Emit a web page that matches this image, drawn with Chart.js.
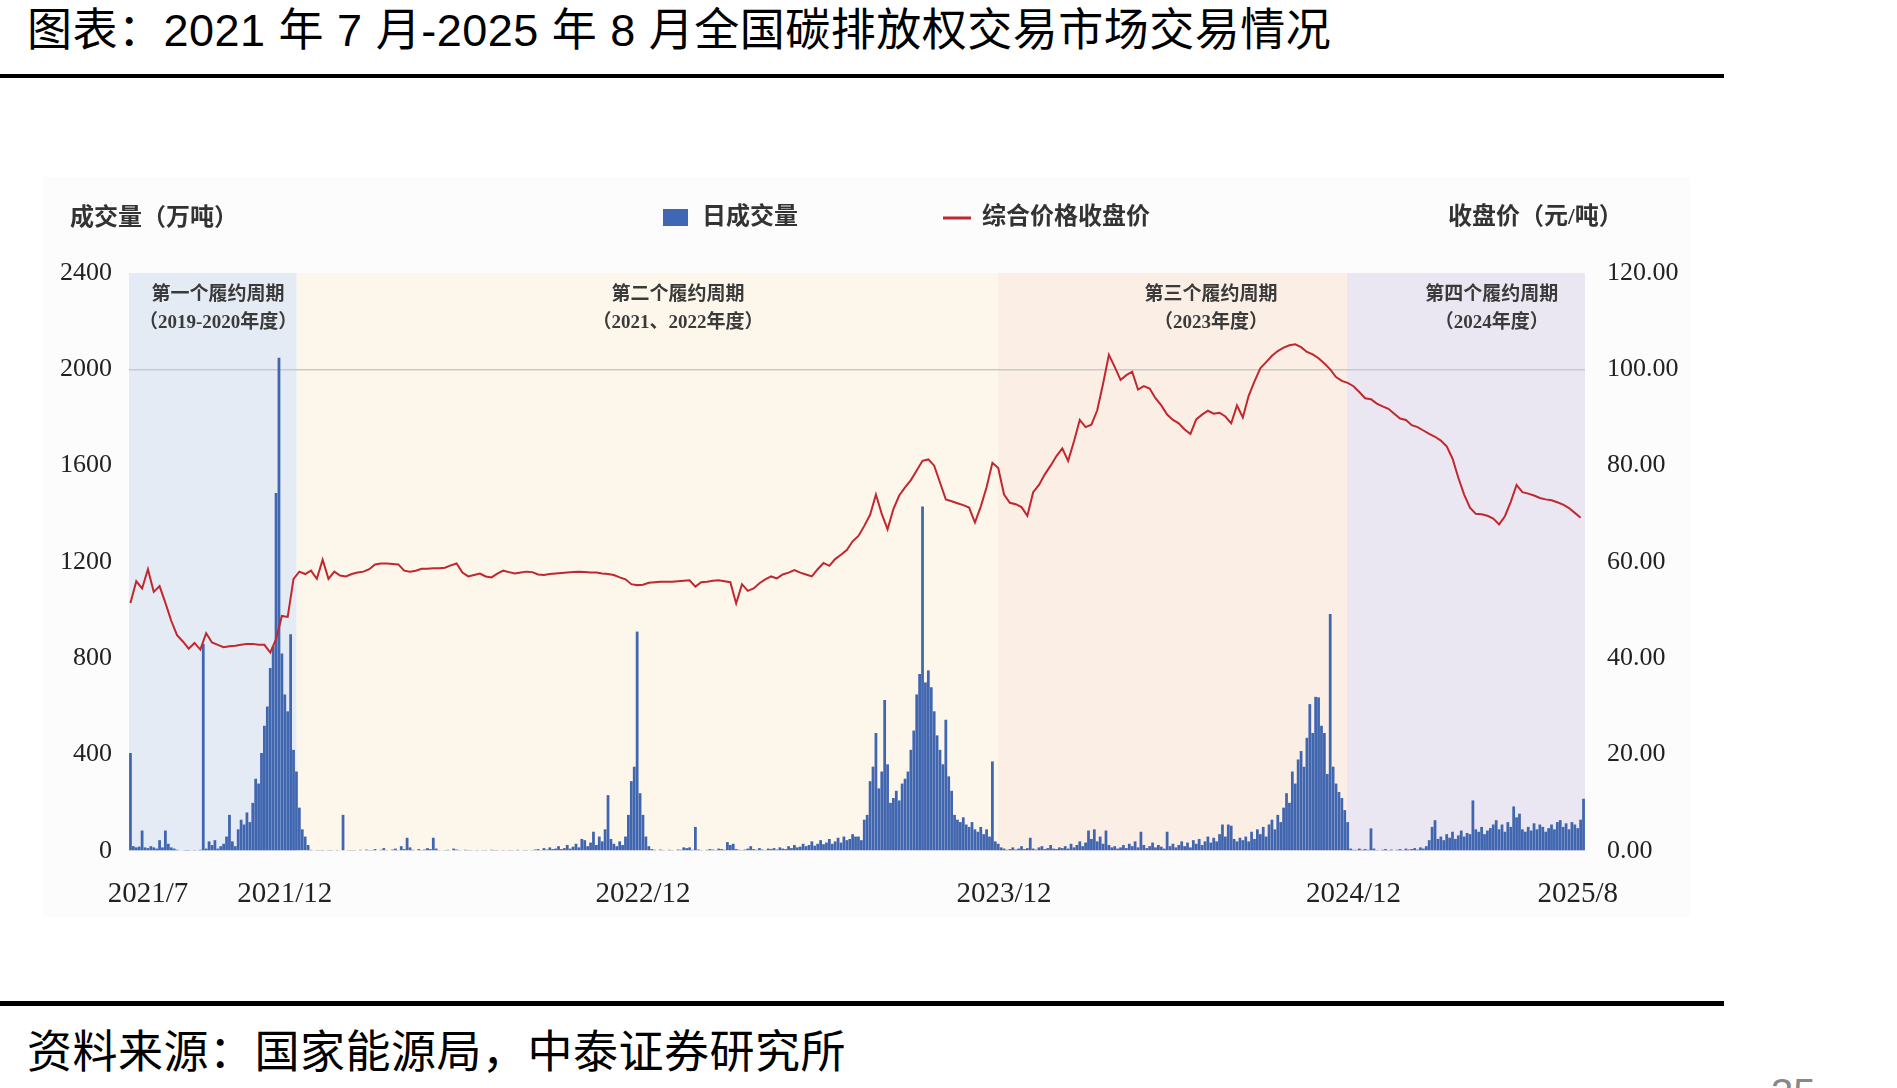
<!DOCTYPE html>
<html lang="zh-CN">
<head>
  <meta charset="UTF-8" />
  <title>全国碳排放权交易市场交易情况</title>
  <script src="https://cdn.jsdelivr.net/npm/chart.js"></script>
  <style>
    body {
      margin: 0;
      width: 1897px;
      height: 1088px;
      overflow: hidden;
      background: #fff;
      position: relative;
      font-family: "Liberation Sans", "Noto Sans CJK SC", sans-serif;
    }
    .title {
      position: absolute;
      left: 27px;
      top: 8px;
      font-size: 45px;
      line-height: 45px;
      letter-spacing: 0.5px;
      color: #000;
      white-space: nowrap;
    }
    .rule {
      position: absolute;
      left: 0;
      width: 1724px;
      background: #000;
    }
    .source {
      position: absolute;
      left: 27px;
      top: 1030px;
      font-size: 45px;
      line-height: 45px;
      letter-spacing: 0.5px;
      color: #000;
      white-space: nowrap;
    }
    .page {
      position: absolute;
      left: 1771px;
      top: 1073px;
      font-size: 40px;
      line-height: 40px;
      color: #888;
    }
    .chart-box {
      position: absolute;
      left: 43px;
      top: 177px;
      width: 1647px;
      height: 740px;
      background: #fcfcfc;
    }
  </style>
</head>
<body>
  <div class="title">图表：2021 年 7 月-2025 年 8 月全国碳排放权交易市场交易情况</div>
  <div class="rule" style="top:74px;height:4px"></div>

  <div class="chart-box"><canvas id="carbonChart"></canvas></div>

  <div class="rule" style="top:1001px;height:5px"></div>
  <div class="source">资料来源：国家能源局，中泰证券研究所</div>
  <div class="page">35</div>

  <script>
    // 日成交量（万吨），每根柱 = 两个交易日，2021/7/16 起
    const volume = [
      407, 20, 15, 18, 85, 15, 12, 20, 15, 10, 45, 15, 85, 30, 15, 10, 5, 3, 3, 2,
      2, 3, 2, 3, 5, 860, 10, 40, 25, 45, 10, 20, 30, 60, 150, 40, 20, 90, 130, 110,
      160, 120, 200, 300, 280, 407, 520, 600, 760, 850, 1486, 2048, 820, 650, 580, 900, 420, 330, 180, 90,
      60, 25, 5, 3, 2, 4, 2, 3, 2, 2, 3, 2, 3, 150, 3, 2, 4, 2, 3, 5,
      3, 6, 4, 2, 8, 3, 5, 12, 4, 3, 6, 10, 4, 20, 8, 55, 15, 5, 3, 8,
      4, 6, 12, 8, 55, 10, 4, 3, 2, 5, 3, 10, 6, 4, 3, 5, 2, 4, 3, 2,
      3, 4, 2, 3, 5, 2, 4, 3, 2, 3, 4, 2, 3, 5, 3, 4, 2, 3, 4, 6,
      8, 4, 12, 6, 15, 8, 10, 20, 8, 12, 25, 10, 18, 30, 15, 50, 45, 20, 35, 80,
      25, 60, 40, 90, 232, 50, 30, 20, 40, 25, 60, 150, 290, 350, 911, 240, 150, 60, 20, 8,
      5, 3, 6, 4, 3, 5, 4, 3, 6, 5, 15, 12, 15, 5, 100, 6, 4, 3, 5, 8,
      6, 4, 10, 8, 5, 37, 25, 30, 8, 5, 4, 6, 10, 20, 8, 5, 12, 6, 4, 10,
      8, 12, 6, 15, 10, 8, 20, 12, 25, 15, 18, 30, 20, 25, 40, 22, 30, 45, 28, 35,
      50, 30, 40, 55, 35, 60, 45, 50, 70, 60, 60, 45, 130, 150, 290, 350, 490, 260, 330, 627,
      360, 200, 220, 250, 210, 280, 300, 330, 420, 500, 650, 735, 1430, 700, 750, 680, 580, 480, 420, 360,
      545, 310, 250, 150, 130, 120, 140, 110, 100, 120, 90, 80, 100, 70, 90, 60, 372, 40, 30, 15,
      10, 5, 8, 15, 6, 10, 20, 8, 12, 55, 10, 6, 15, 20, 8, 12, 25, 10, 8, 15,
      12, 20, 10, 30, 15, 25, 40, 20, 35, 85, 50, 90, 40, 60, 30, 85, 25, 15, 20, 10,
      15, 25, 12, 30, 20, 40, 15, 80, 25, 12, 20, 35, 15, 25, 18, 10, 80, 20, 30, 15,
      25, 40, 20, 35, 15, 45, 30, 50, 25, 40, 60, 35, 55, 40, 70, 110, 60, 110, 105, 50,
      40, 55, 45, 60, 40, 80, 50, 90, 70, 100, 60, 110, 130, 90, 150, 120, 180, 240, 200, 330,
      280, 380, 415, 350, 470, 610, 490, 640, 638, 520, 490, 320, 984, 350, 280, 245, 220, 170, 120, 10,
      5, 5, 10, 5, 8, 5, 94, 10, 4, 3, 5, 8, 4, 6, 3, 5, 8, 4, 10, 6,
      8, 12, 6, 15, 10, 20, 45, 100, 128, 50, 60, 45, 70, 55, 80, 50, 65, 85, 60, 75,
      70, 210, 90, 80, 100, 70, 85, 95, 110, 128, 90, 110, 80, 120, 100, 185, 140, 155, 90, 80,
      100, 85, 115, 90, 110, 100, 80, 95, 110, 90, 120, 128, 100, 115, 90, 120, 110, 95, 130, 217
    ];

    // 综合价格收盘价（元/吨），每点 = 两根柱
    const price = [
      51.5, 56.0, 54.5, 58.5, 53.8, 55.0, 51.5, 47.8, 44.8, 43.5,
      42.0, 43.2, 41.8, 45.2, 43.3, 42.8, 42.3, 42.5, 42.6, 42.8,
      43.0, 43.0, 42.8, 42.8, 41.2, 44.0, 48.8, 48.6, 56.5, 58.0,
      57.5, 58.2, 56.5, 60.5, 56.5, 58.0, 57.2, 57.0, 57.5, 57.8,
      58.0, 58.5, 59.5, 59.7, 59.7, 59.6, 59.5, 58.2, 58.0, 58.2,
      58.6, 58.6, 58.7, 58.7, 58.8, 59.3, 59.7, 57.8, 57.0, 57.3,
      57.6, 57.0, 56.8, 57.6, 58.2, 57.9, 57.6, 57.8, 58.0, 57.9,
      57.4, 57.3, 57.5, 57.6, 57.7, 57.8, 57.9, 58.0, 57.9, 57.8,
      57.8, 57.6, 57.5, 57.3, 56.8, 56.4, 55.4, 55.2, 55.3, 55.7,
      55.8, 55.9, 55.9, 55.9, 56.0, 56.1, 56.2, 54.9, 55.8, 55.9,
      56.1, 56.2, 56.0, 55.8, 51.4, 55.4, 54.0, 54.5, 55.6, 56.4,
      57.0, 56.6, 57.4, 57.8, 58.3, 57.8, 57.4, 57.0, 58.5, 59.8,
      59.2, 60.6, 61.5, 62.5, 64.3, 65.4, 67.5, 69.8, 74.0, 70.0,
      66.8, 71.0, 73.8, 75.5, 77.0, 79.0, 81.0, 81.3, 80.0, 76.5,
      73.0, 72.6, 72.2, 71.8, 71.3, 68.2, 71.5, 75.5, 80.6, 79.5,
      74.0, 72.3, 72.0, 71.4, 69.6, 74.5, 76.0, 78.2, 80.0, 82.0,
      83.6, 81.0, 85.0, 89.5, 88.0, 88.5, 91.5, 97.0, 103.0, 100.5,
      97.8, 98.8, 99.5, 95.8, 96.5, 96.0, 94.0, 92.5, 90.6, 89.5,
      88.8, 87.5, 86.6, 89.6, 90.6, 91.4, 90.8, 91.0, 90.2, 88.8,
      92.5, 90.0, 94.5, 97.5, 100.2, 101.5, 102.8, 103.8, 104.5, 105.0,
      105.2, 104.6, 103.6, 103.1, 102.3, 101.2, 100.0, 98.4, 97.6, 97.2,
      96.5, 95.3, 94.0, 93.8, 92.9, 92.3, 91.8, 90.8, 89.8, 89.5,
      88.4, 88.0, 87.3, 86.6, 86.0, 85.2, 84.0, 81.5, 77.5, 74.0,
      71.3, 70.0, 69.9, 69.6, 69.0, 67.8, 69.5, 72.5, 76.0, 74.5,
      74.2, 73.8, 73.3, 73.0, 72.8, 72.4, 71.9, 71.2, 70.2, 69.2
    ];

    // 横轴刻度（所在柱序号）
    const xTickLabels = ['2021/7', '2021/12', '2022/12', '2023/12', '2024/12', '2025/8'];
    const xTickBins = [6, 53, 176, 300, 420, 497];

    // 履约周期分段（柱序号边界）
    const cycleNames = ['第一个履约周期', '第二个履约周期', '第三个履约周期', '第四个履约周期'];
    const cycleYears = ['（2019-2020年度）', '（2021、2022年度）', '（2023年度）', '（2024年度）'];
    const cycleEdges = [0, 57.6, 298.4, 418.3, 500];
    const cycleLabelAt = [30.6, 188.5, 371.6, 468];
    const cycleFills = ['#e4ebf5', '#fdf6eb', '#fbeee5', '#ebe7f2'];

    const bins = volume.map((_, i) => i);
    const priceSeries = bins.map(i => (i % 2 === 0 ? price[i / 2] : null));

    const serif = '"Liberation Serif", "Noto Sans CJK SC", serif';
    const cjk = '"Liberation Serif", "Noto Sans CJK SC", sans-serif';

    const cyclePlugin = {
      id: 'cycles',
      beforeDraw(chart) {
        const { ctx, chartArea: a } = chart;
        const x = chart.scales.x;
        ctx.save();
        for (let k = 0; k < cycleNames.length; k++) {
          const x0 = x.getPixelForValue(cycleEdges[k] - 0.5);
          const x1 = x.getPixelForValue(cycleEdges[k + 1] - 0.5);
          ctx.fillStyle = cycleFills[k];
          ctx.fillRect(x0, a.top, x1 - x0, a.bottom - a.top);
        }
        ctx.fillStyle = '#3a3a3a';
        ctx.font = 'bold 19px ' + cjk;
        ctx.textAlign = 'center';
        ctx.textBaseline = 'middle';
        for (let k = 0; k < cycleNames.length; k++) {
          const cx = x.getPixelForValue(cycleLabelAt[k] - 0.5);
          ctx.fillText(cycleNames[k], cx, a.top + 22);
          ctx.fillText(cycleYears[k], cx, a.top + 50);
        }
        ctx.restore();
      },
      afterDraw(chart) {
        const ctx = chart.ctx;
        ctx.save();
        ctx.font = 'bold 24px ' + cjk;
        ctx.fillStyle = '#333';
        ctx.textBaseline = 'middle';
        ctx.textAlign = 'left';
        ctx.fillText('成交量（万吨）', 27, 42);
        ctx.fillText('收盘价（元/吨）', 1405, 41);

        // 图例
        ctx.fillStyle = '#3f67b5';
        ctx.fillRect(620, 32, 25, 17);
        ctx.fillStyle = '#333';
        ctx.fillText(chart.data.datasets[1].label, 659, 41);
        ctx.strokeStyle = '#c1272d';
        ctx.lineWidth = 3;
        ctx.beginPath();
        ctx.moveTo(900, 41);
        ctx.lineTo(928, 41);
        ctx.stroke();
        ctx.fillText(chart.data.datasets[0].label, 939, 41);
        ctx.restore();
      }
    };

    const ctx = document.getElementById('carbonChart').getContext('2d');
    const chart = new Chart(ctx, {
      type: 'bar',
      data: {
        labels: bins,
        datasets: [
          {
            type: 'line',
            label: '综合价格收盘价',
            data: priceSeries,
            yAxisID: 'yPrice',
            borderColor: '#c1272d',
            borderWidth: 2,
            pointRadius: 0,
            spanGaps: true,
            tension: 0,
            order: 1
          },
          {
            type: 'bar',
            label: '日成交量',
            data: volume,
            yAxisID: 'yVol',
            backgroundColor: '#4166b0',
            barPercentage: 1,
            categoryPercentage: 0.95,
            order: 2
          }
        ]
      },
      options: {
        responsive: true,
        maintainAspectRatio: false,
        animation: false,
        layout: { padding: { top: 96 } },
        plugins: {
          legend: { display: false },
          tooltip: { enabled: false }
        },
        scales: {
          x: {
            grid: { display: false, drawTicks: false },
            border: { display: false },
            ticks: {
              autoSkip: false,
              maxRotation: 0,
              padding: 26,
              color: '#222',
              font: { family: serif, size: 29 },
              callback: function (value) {
                const k = xTickBins.indexOf(value);
                return k >= 0 ? xTickLabels[k] : '';
              }
            },
            afterBuildTicks: s => { s.ticks = xTickBins.map(v => ({ value: v })); },
            afterFit: s => { s.height = 66; }
          },
          yVol: {
            position: 'left',
            min: 0,
            max: 2400,
            border: { display: false },
            grid: {
              drawTicks: false,
              lineWidth: 1.5,
              color: c => (c.tick && c.tick.value === 2000 ? '#c9c9c9' : 'rgba(0,0,0,0)')
            },
            ticks: {
              stepSize: 400,
              padding: 17,
              color: '#222',
              font: { family: serif, size: 26 },
              callback: v => String(v)
            },
            afterFit: s => { s.width = 86; }
          },
          yPrice: {
            position: 'right',
            min: 0,
            max: 120,
            border: { display: false },
            grid: { display: false, drawTicks: false },
            ticks: {
              stepSize: 20,
              padding: 22,
              color: '#222',
              font: { family: serif, size: 26 },
              callback: v => v.toFixed(2)
            },
            afterFit: s => { s.width = 105; }
          }
        }
      },
      plugins: [cyclePlugin]
    });
  </script>
</body>
</html>
